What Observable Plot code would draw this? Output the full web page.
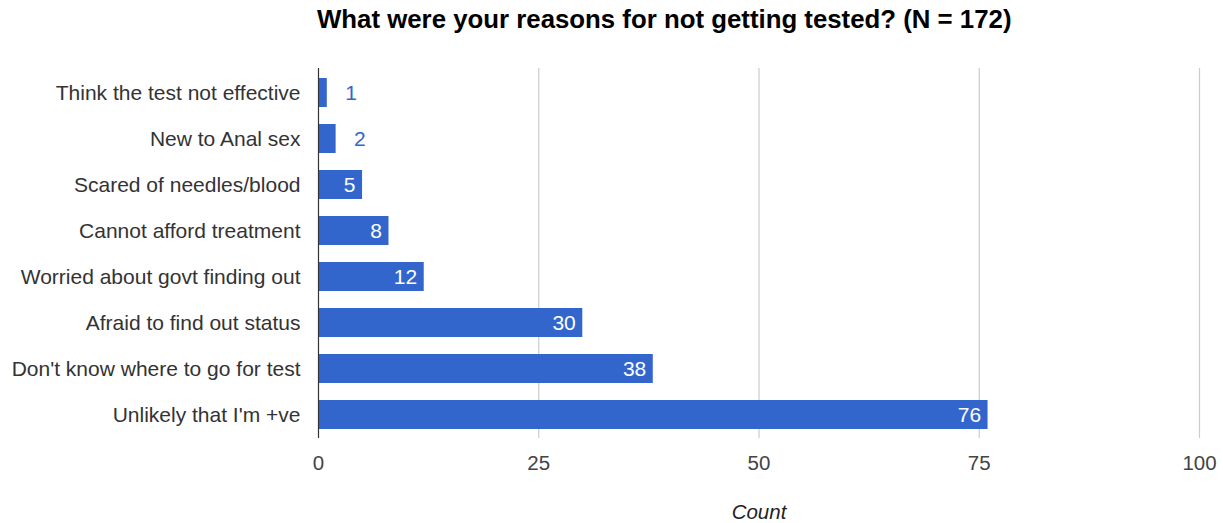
<!DOCTYPE html>
<html>
<head>
<meta charset="utf-8">
<script src="https://cdn.jsdelivr.net/npm/d3@7"></script>
<script src="https://cdn.jsdelivr.net/npm/@observablehq/plot@0.6"></script>
<style>
  html, body { margin: 0; padding: 0; background: #fff; }
  #wrap { position: relative; width: 1223px; height: 523px; font-family: Arial, "Liberation Sans", sans-serif; }
  #title { position: absolute; top: 5px; left: 317px; font-size: 25.8px; font-weight: bold; color: #000; white-space: nowrap; }
</style>
</head>
<body>
<div id="wrap">
  <div id="title">What were your reasons for not getting tested? (N = 172)</div>
  <div id="chart"></div>
</div>
<script>
const categories = [
  "Think the test not effective",
  "New to Anal sex",
  "Scared of needles/blood",
  "Cannot afford treatment",
  "Worried about govt finding out",
  "Afraid to find out status",
  "Don't know where to go for test",
  "Unlikely that I'm +ve"
];
const counts = [1, 2, 5, 8, 12, 30, 38, 76];
const xTicks = [0, 25, 50, 75, 100];
const xLabel = "Count";

const data = categories.map((c, i) => ({reason: c, count: counts[i]}));
const blue = "#3366cc";

const chart = Plot.plot({
  width: 1223,
  height: 523,
  marginLeft: 318,
  marginRight: 24,
  marginTop: 68,
  marginBottom: 85,
  style: {fontFamily: "Arial, 'Liberation Sans', sans-serif", fontSize: "21px", background: "transparent", overflow: "visible"},
  x: {domain: [0, 100], ticks: xTicks, label: null},
  y: {domain: categories, label: null, paddingInner: 0.37, paddingOuter: 0.185},
  marks: [
    Plot.ruleX(xTicks.filter(d => d > 0), {stroke: "#cccccc", strokeWidth: 1.2}),
    Plot.barX(data, {x: "count", y: "reason", fill: blue}),
    Plot.ruleX([0], {stroke: "#333333", strokeWidth: 1.2}),
    Plot.axisX(xTicks, {tickSize: 0, tickPadding: 17, fontSize: 20.5, color: "#444444", label: null}),
    Plot.axisY({tickSize: 0, tickPadding: 18, fontSize: 21, color: "#333333", label: null}),
    Plot.text(data.filter(d => d.count >= 5), {x: "count", y: "reason", text: d => String(d.count), textAnchor: "end", dx: -7, fill: "white", fontSize: 21}),
    Plot.text(data.filter(d => d.count < 5), {x: "count", y: "reason", text: d => String(d.count), textAnchor: "start", dx: 18, fill: blue, fontSize: 21}),
    Plot.text([xLabel], {frameAnchor: "bottom", text: d => d, dy: 80, fontSize: 20.5, fontStyle: "italic", fill: "#222222"})
  ]
});
document.getElementById("chart").appendChild(chart);
</script>
</body>
</html>
